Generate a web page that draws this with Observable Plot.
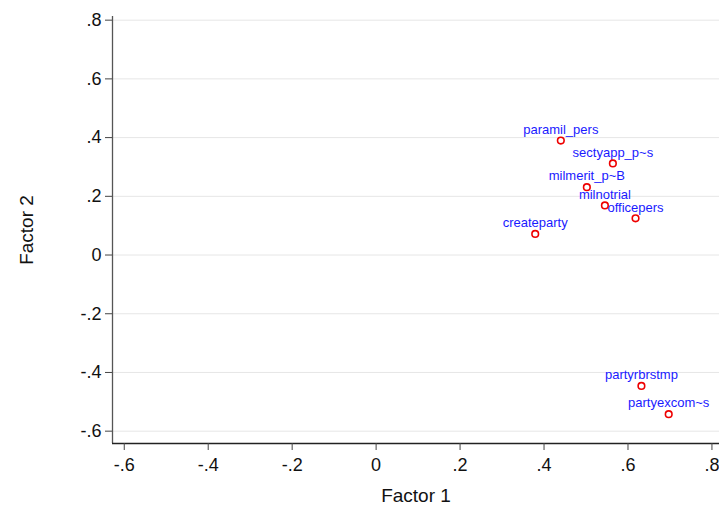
<!DOCTYPE html>
<html>
<head>
<meta charset="utf-8">
<script src="https://cdn.jsdelivr.net/npm/d3@7"></script>
<script src="https://cdn.jsdelivr.net/npm/@observablehq/plot@0.6"></script>
<style>
  html, body { margin: 0; padding: 0; background: #fff; }
  #chart svg { display: block; }
</style>
</head>
<body>
<div id="chart"></div>
<script>
// Factor loadings: variable names with their Factor 1 / Factor 2 loadings
const variables = ["paramil_pers", "sectyapp_p~s", "milmerit_p~B", "milnotrial", "officepers", "createparty", "partyrbrstmp", "partyexcom~s"];
const factor1 = [0.440, 0.564, 0.502, 0.545, 0.618, 0.379, 0.632, 0.697];
const factor2 = [0.390, 0.312, 0.231, 0.169, 0.125, 0.072, -0.446, -0.542];

const xTicks = [-0.6, -0.4, -0.2, 0, 0.2, 0.4, 0.6, 0.8];
const yTicks = [-0.6, -0.4, -0.2, 0, 0.2, 0.4, 0.6, 0.8];
const xDomain = [-0.628, 0.818];
const yDomain = [-0.642, 0.8125];

const points = variables.map((name, i) => ({name, f1: factor1[i], f2: factor2[i]}));

// Stata-style tick labels: ASCII hyphen, no leading zero (".4", "-.2")
const fmt = d => {
  if (Math.abs(d) < 1e-9) return "0";
  const s = Math.abs(d).toFixed(1).replace(/^0\./, ".");
  return (d < 0 ? "-" : "") + s;
};

const font = "Liberation Sans, Arial, Helvetica, sans-serif";

const chart = Plot.plot({
  width: 719,
  height: 506,
  marginLeft: 112,
  marginRight: 0,
  marginTop: 16,
  marginBottom: 63,
  style: {fontFamily: font, background: "#fff"},
  x: {domain: xDomain},
  y: {domain: yDomain},
  marks: [
    Plot.gridY(yTicks, {stroke: "#e6e6e6", strokeOpacity: 1, strokeWidth: 1}),
    Plot.ruleX([xDomain[0]], {stroke: "#555", strokeWidth: 1.3}),
    Plot.ruleY([yDomain[0]], {stroke: "#222", strokeWidth: 1.3}),
    Plot.axisY(yTicks, {
      tickFormat: fmt, tickSize: 7, tickPadding: 4, fontSize: 18,
      stroke: "#444", color: "#111",
      label: "Factor 2", labelAnchor: "center", labelOffset: 93, labelArrow: "none"
    }),
    Plot.axisX(xTicks, {
      tickFormat: fmt, tickSize: 7, tickPadding: 8, fontSize: 18,
      stroke: "#444", color: "#111",
      label: "Factor 1", labelAnchor: "center", labelOffset: 58, labelArrow: "none"
    }),
    Plot.text(points, {
      x: "f1", y: "f2", text: "name", dy: -11,
      fill: "#1a1aff", fontSize: 13, fontFamily: font
    }),
    Plot.dot(points, {
      x: "f1", y: "f2", r: 3.3, stroke: "#ee0000", strokeWidth: 1.6, fill: "none"
    })
  ]
});

// Axis titles in Stata's larger size
d3.select(chart).selectAll("[aria-label='y-axis label'] text, [aria-label='x-axis label'] text")
  .style("font-size", "19px");

document.getElementById("chart").append(chart);
</script>
</body>
</html>
